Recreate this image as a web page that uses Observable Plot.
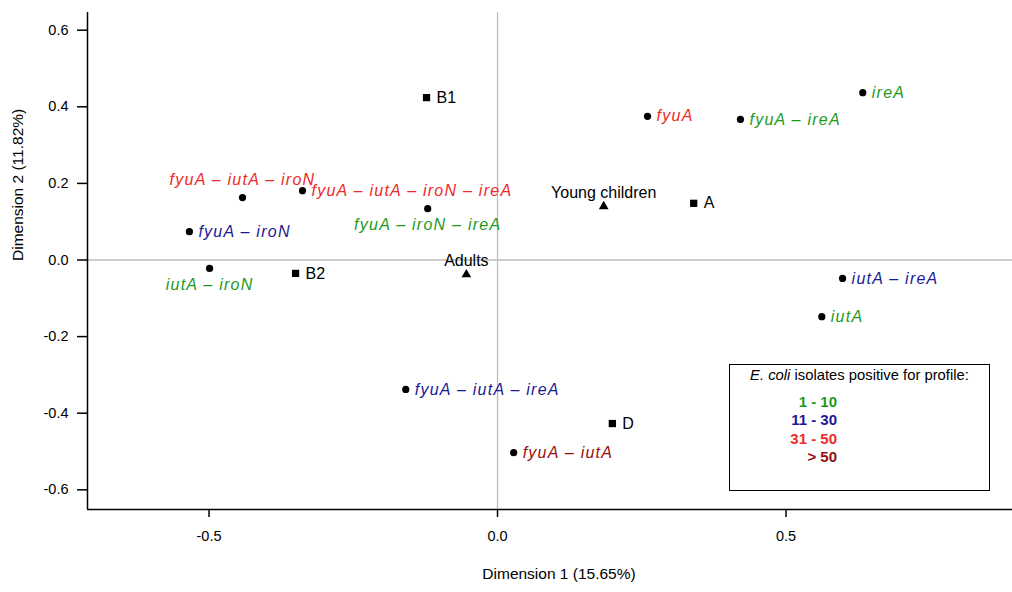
<!DOCTYPE html>
<html>
<head>
<meta charset="utf-8">
<script src="https://cdn.jsdelivr.net/npm/d3@7"></script>
<script src="https://cdn.jsdelivr.net/npm/@observablehq/plot@0.6"></script>
<style>
  html, body { margin: 0; padding: 0; background: #fff; }
  #wrap { position: relative; width: 1012px; height: 592px; font-family: "Liberation Sans", Arial, sans-serif; }
  #legend { position: absolute; left: 729px; top: 364px; width: 259px; height: 125px; border: 1.5px solid #000; background: #fff; box-sizing: content-box; }
  #legend .title { position: absolute; left: 0; right: 0; top: 2px; text-align: center; font-size: 14.8px; color: #000; }
  #legend .item { position: absolute; right: 152px; font-size: 15px; font-weight: bold; text-align: right; line-height: 17px; }
</style>
</head>
<body>
<div id="wrap"></div>
<script>
// ---- data ----
const profiles = ["ireA", "fyuA", "fyuA – ireA", "fyuA – iutA – iroN", "fyuA – iutA – iroN – ireA",
  "fyuA – iroN – ireA", "fyuA – iroN", "iutA – iroN", "iutA – ireA", "iutA", "fyuA – iutA – ireA", "fyuA – iutA"];
const profileDim1 = [0.633, 0.260, 0.421, -0.442, -0.338, -0.121, -0.534, -0.499, 0.598, 0.562, -0.159, 0.028];
const profileDim2 = [0.437, 0.375, 0.367, 0.163, 0.181, 0.134, 0.074, -0.022, -0.048, -0.148, -0.338, -0.503];
const profileCount = ["1 - 10", "31 - 50", "1 - 10", "31 - 50", "31 - 50",
  "1 - 10", "11 - 30", "1 - 10", "11 - 30", "1 - 10", "11 - 30", "> 50"];

const phylogroups = ["B1", "A", "B2", "D"];
const phyloDim1 = [-0.123, 0.340, -0.350, 0.199];
const phyloDim2 = [0.424, 0.148, -0.035, -0.427];

const ageGroups = ["Young children", "Adults"];
const ageDim1 = [0.184, -0.054];
const ageDim2 = [0.140, -0.038];

const countCategories = ["1 - 10", "11 - 30", "31 - 50", "> 50"];
const countColors = ["#1e9a1e", "#1a1a96", "#ee2a2a", "#960f0f"];

const xTicks = [-0.5, 0.0, 0.5];
const yTicks = [-0.6, -0.4, -0.2, 0.0, 0.2, 0.4, 0.6];
const xTitle = "Dimension 1 (15.65%)";
const yTitle = "Dimension 2 (11.82%)";
const legendTitle = "isolates positive for profile:";

// label placement (style, not data)
const labelPlacement = { "fyuA – iutA – iroN": "top", "fyuA – iroN – ireA": "bottom", "iutA – iroN": "bottom" };

// ---- tables ----
const profileRows = profiles.map((p, i) => ({ name: p, x: profileDim1[i], y: profileDim2[i], count: profileCount[i] }));
const phyloRows = phylogroups.map((p, i) => ({ name: p, x: phyloDim1[i], y: phyloDim2[i] }));
const ageRows = ageGroups.map((p, i) => ({ name: p, x: ageDim1[i], y: ageDim2[i] }));

const xDomain = [-0.7106, 0.8925];
const yDomain = [-0.6514, 0.6462];
const fmt = d => d.toFixed(1);
const place = d => labelPlacement[d.name] || "right";

const labelStyle = { x: "x", y: "y", text: "name", fill: "count", fontStyle: "italic", fontSize: 16 };

const chart = Plot.plot({
  width: 1012, height: 592,
  marginLeft: 87, marginRight: 0, marginTop: 12, marginBottom: 83,
  style: { fontFamily: "'Liberation Sans', Arial, sans-serif", background: "#fff", color: "#000" },
  x: { domain: xDomain },
  y: { domain: yDomain },
  color: { domain: countCategories, range: countColors },
  marks: [
    Plot.ruleX([0], { stroke: "#bdbdbd", strokeWidth: 1.3 }),
    Plot.ruleY([0], { stroke: "#bdbdbd", strokeWidth: 1.3 }),
    Plot.ruleX([xDomain[0]], { stroke: "#000", strokeWidth: 1.5 }),
    Plot.ruleY([yDomain[0]], { stroke: "#000", strokeWidth: 1.5 }),
    Plot.axisX({ ticks: xTicks, tickFormat: fmt, tickSize: 8, tickPadding: 13, fontSize: 14.5, label: null, strokeWidth: 1.5 }),
    Plot.axisY({ ticks: yTicks, tickFormat: fmt, tickSize: 10, tickPadding: 9, fontSize: 14.5, label: null, strokeWidth: 1.5 }),
    Plot.text([xTitle], { frameAnchor: "bottom", dx: 9, dy: 69, fontSize: 15.5, fill: "#000" }),
    Plot.text([yTitle], { frameAnchor: "left", dx: -69, rotate: -90, fontSize: 15.5, fill: "#000" }),
    // profile points
    Plot.dot(profileRows, { x: "x", y: "y", r: 3.6, fill: "#000", stroke: "none" }),
    Plot.text(profileRows.filter(d => place(d) === "right"), { ...labelStyle, textAnchor: "start", dx: 9 }),
    Plot.text(profileRows.filter(d => place(d) === "top"), { ...labelStyle, textAnchor: "middle", dy: -18 }),
    Plot.text(profileRows.filter(d => place(d) === "bottom"), { ...labelStyle, textAnchor: "middle", dy: 16 }),
    // phylogroups
    Plot.dot(phyloRows, { x: "x", y: "y", symbol: "square", r: 4.1, fill: "#000", stroke: "none" }),
    Plot.text(phyloRows, { x: "x", y: "y", text: "name", textAnchor: "start", dx: 10, fontSize: 16, fill: "#000" }),
    // age groups
    Plot.dot(ageRows, { x: "x", y: "y", symbol: "triangle", r: 3.6, fill: "#000", stroke: "none" }),
    Plot.text(ageRows, { x: "x", y: "y", text: "name", textAnchor: "middle", dy: -14, fontSize: 16, fill: "#000" })
  ]
});

d3.select(chart).selectAll('g[font-style="italic"] text').style("letter-spacing", "1.25px");

const wrap = document.getElementById("wrap");
wrap.appendChild(chart);

// legend box
const legend = document.createElement("div");
legend.id = "legend";
const t = document.createElement("div");
t.className = "title";
t.innerHTML = "<i>E. coli</i> " + legendTitle;
legend.appendChild(t);
countCategories.forEach((c, i) => {
  const it = document.createElement("div");
  it.className = "item";
  it.style.top = (28 + i * 18.3) + "px";
  it.style.color = countColors[i];
  it.textContent = c;
  legend.appendChild(it);
});
wrap.appendChild(legend);
</script>
</body>
</html>
